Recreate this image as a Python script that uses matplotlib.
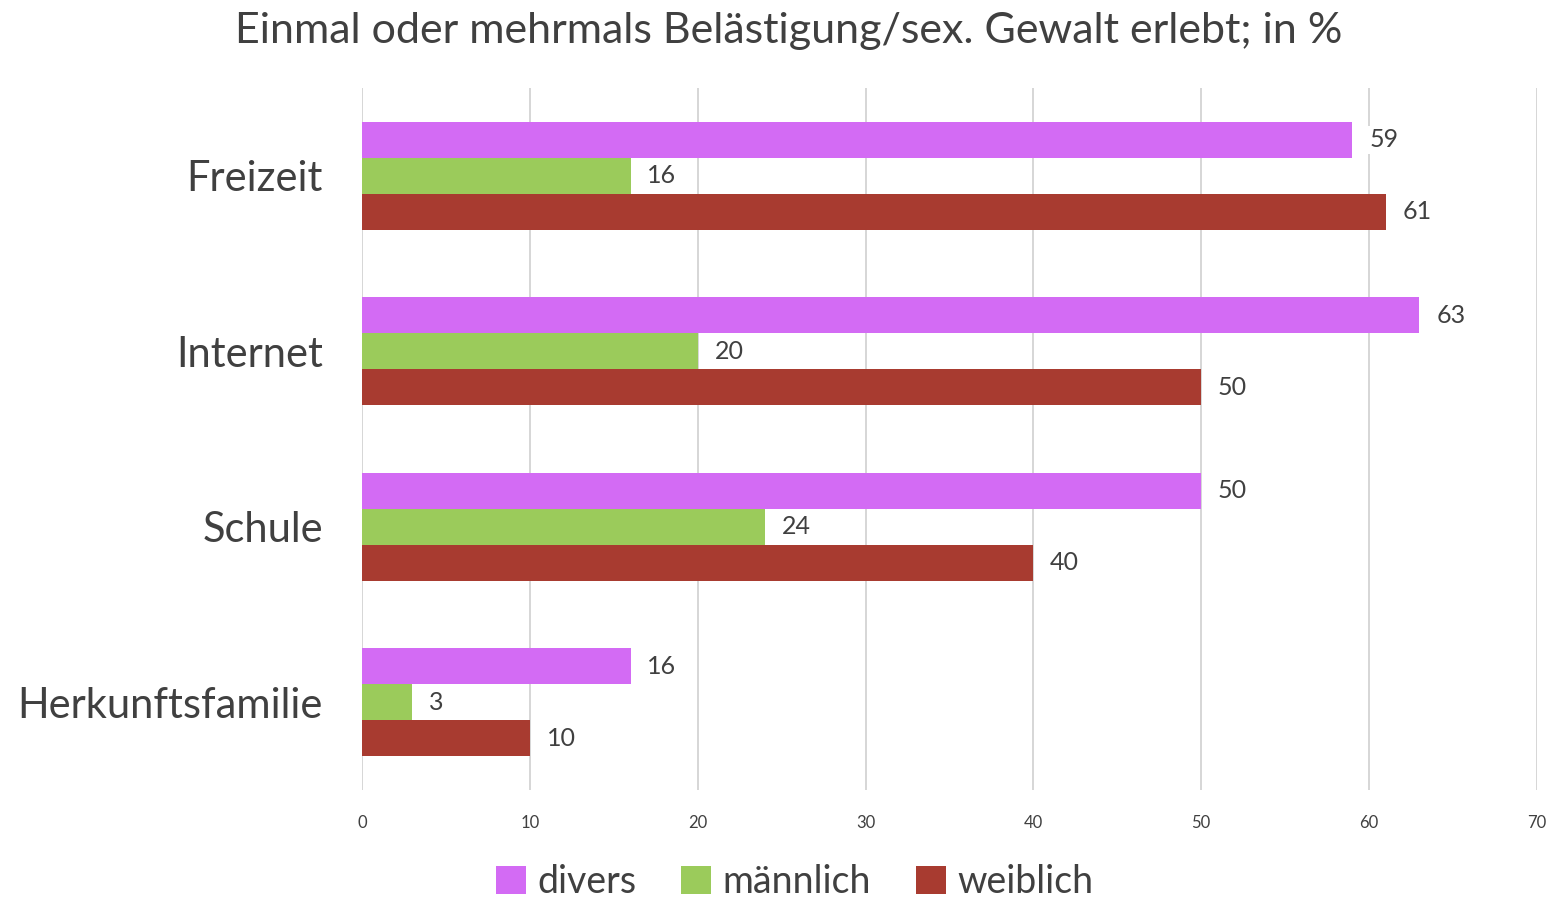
import numpy as np
import matplotlib.pyplot as plt
from matplotlib.patches import Patch

plt.rcParams['font.family'] = ['Lato', 'DejaVu Sans']

# data
categories = ['Freizeit', 'Internet', 'Schule', 'Herkunftsfamilie']
divers = [59, 63, 50, 16]
maennlich = [16, 20, 24, 3]
weiblich = [61, 50, 40, 10]
series = [('divers', divers, '#D36BF4'),
          ('männlich', maennlich, '#9BCB5B'),
          ('weiblich', weiblich, '#A83B30')]

txt = '#404040'
fig = plt.figure(figsize=(15.52, 9), dpi=100)
ax = fig.add_axes([0.2332, 0.1222, 0.7571, 0.78])

y = np.arange(len(categories))
h = 0.205
for i, (name, vals, col) in enumerate(series):
    pos = y + (i - 1) * h
    ax.barh(pos, vals, height=h, color=col, zorder=2)
    for p, v in zip(pos, vals):
        ax.text(v + 1.0, p, str(v), va='center', ha='left', fontsize=18,
                color=txt, zorder=3,
                bbox=dict(facecolor='white', edgecolor='none', pad=2))

ax.set_xlim(0, 70)
ax.set_ylim(3.5, -0.5)
ax.set_xticks(range(0, 71, 10))
ax.set_yticks(y)
ax.set_yticklabels(categories, fontsize=30, color=txt)
ax.tick_params(axis='x', labelsize=12, colors=txt, length=0, pad=18)
ax.tick_params(axis='y', length=0, pad=28)
ax.grid(axis='x', color='#D0D0D0', linewidth=1.2, zorder=0)
for s in ax.spines.values():
    s.set_visible(False)

fig.text(0.508, 0.965, 'Einmal oder mehrmals Belästigung/sex. Gewalt erlebt; in %',
         ha='center', va='center', fontsize=31, color=txt)

handles = [Patch(facecolor=c, label=n) for n, _, c in series]
fig.legend(handles=handles, loc='center', bbox_to_anchor=(0.512, 0.02),
           ncol=3, frameon=False, fontsize=27, labelcolor=txt,
           handlelength=0.8, handleheight=0.8, handletextpad=0.3,
           columnspacing=1.2)

fig.savefig('out.png', dpi=100)
